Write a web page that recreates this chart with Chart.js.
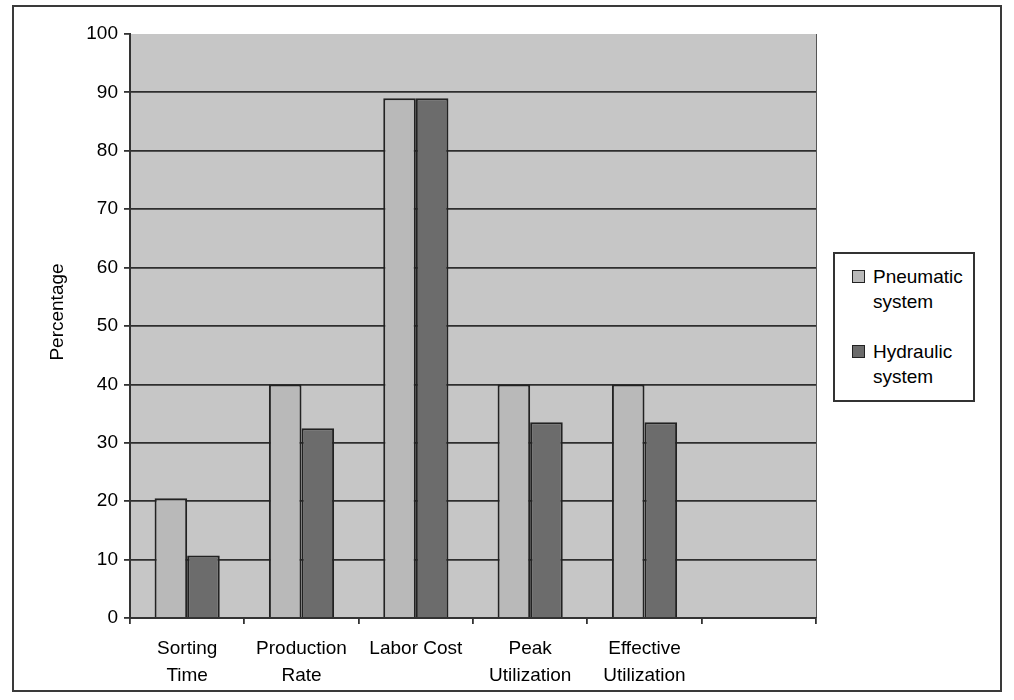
<!DOCTYPE html>
<html>
<head>
<meta charset="utf-8">
<script src="https://cdn.jsdelivr.net/npm/chart.js@4/dist/chart.umd.min.js"></script>
<style>
  html, body { margin: 0; padding: 0; background: #ffffff; }
  #wrap { position: relative; width: 1014px; height: 700px; }
  #frame { position: absolute; left: 12px; top: 5px; width: 986px; height: 683px; border: 2px solid #3a3a3a; pointer-events: none; }
  #legend { position: absolute; left: 833px; top: 252px; width: 142px; height: 150px; border: 2px solid #333; background: #fff;
            font-family: "Liberation Sans", Arial, sans-serif; font-size: 19px; color: #000; box-sizing: border-box; }
  .item { position: absolute; left: 17px; line-height: 25px; }
  .sw { position: absolute; left: 0; top: 6px; width: 11px; height: 11px; border: 1.5px solid #222; }
  .txt { margin-left: 21px; text-align: left; display: block; }
</style>
</head>
<body>
<div id="wrap">
  <canvas id="c" width="1014" height="700"></canvas>
  <div id="frame"></div>
  <div id="legend"></div>
</div>
<script>
// Categories (last slot intentionally empty)
const categories = [["Sorting", "Time"], ["Production", "Rate"], "Labor Cost", ["Peak", "Utilization"], ["Effective", "Utilization"], ""];
const pneumatic = [20.5, 40, 89, 40, 40, null];
const hydraulic = [10.7, 32.5, 89, 33.5, 33.5, null];
const seriesNames = [["Pneumatic", "system"], ["Hydraulic", "system"]];
const yTicks = [0, 10, 20, 30, 40, 50, 60, 70, 80, 90, 100];

const FONT = '"Liberation Sans", Arial, sans-serif';
const colors = ["#b9b9b9", "#6c6c6c"];

// Grey plot background, drawn behind the grid, plus the rotated axis title
const plotBg = {
  id: 'plotBg',
  beforeDraw(chart) {
    const { ctx, chartArea: a } = chart;
    ctx.save();
    ctx.fillStyle = '#c6c6c6';
    ctx.fillRect(a.left, a.top, a.right - a.left, a.bottom - a.top);
    ctx.strokeStyle = '#555';
    ctx.lineWidth = 1;
    ctx.beginPath();
    ctx.moveTo(a.right + 0.5, a.top);
    ctx.lineTo(a.right + 0.5, a.bottom);
    ctx.stroke();
    ctx.restore();
  },
  afterDraw(chart) {
    const { ctx } = chart;
    ctx.save();
    ctx.fillStyle = '#000';
    ctx.font = '19px ' + FONT;
    ctx.translate(58, 312);
    ctx.rotate(-Math.PI / 2);
    ctx.textAlign = 'center';
    ctx.textBaseline = 'middle';
    ctx.fillText('Percentage', 0, 0);
    ctx.restore();
  }
};

new Chart(document.getElementById('c'), {
  type: 'bar',
  data: {
    labels: categories,
    datasets: [
      { label: seriesNames[0].join(' '), data: pneumatic, backgroundColor: colors[0], borderColor: '#222', borderWidth: 2 },
      { label: seriesNames[1].join(' '), data: hydraulic, backgroundColor: colors[1], borderColor: '#222', borderWidth: 2 }
    ]
  },
  options: {
    responsive: false,
    animation: false,
    layout: { padding: { left: 0, right: 198, top: 34, bottom: 0 } },
    datasets: { bar: { categoryPercentage: 0.57, barPercentage: 1.0 } },
    plugins: { legend: { display: false }, tooltip: { enabled: false } },
    scales: {
      x: {
        offset: true,
        afterFit(s) { s.height = 82; },
        grid: { drawOnChartArea: false, drawTicks: true, tickLength: 6, color: '#333', lineWidth: 1.8, offset: true },
        border: { display: true, color: '#333', width: 2 },
        ticks: { color: '#000', font: { family: FONT, size: 19, lineHeight: 1.38 }, padding: 12, maxRotation: 0, autoSkip: false }
      },
      y: {
        min: 0, max: 100,
        afterFit(s) { s.width = 130; },
        afterBuildTicks(s) { s.ticks = yTicks.map(v => ({ value: v })); },
        grid: {
          color: (c) => (c.tick && c.tick.value === 100) ? 'rgba(0,0,0,0)' : '#2e2e2e',
          tickColor: '#333', lineWidth: 1.8, tickLength: 6, drawTicks: true
        },
        border: { display: true, color: '#333', width: 2 },
        ticks: { color: '#000', font: { family: FONT, size: 19 }, padding: 6 }
      }
    }
  },
  plugins: [plotBg]
});

// Legend box built from the series names
const legend = document.getElementById('legend');
seriesNames.forEach((lines, i) => {
  const it = document.createElement('div');
  it.className = 'item';
  it.style.top = (10 + i * 75) + 'px';
  const sw = document.createElement('span');
  sw.className = 'sw';
  sw.style.background = colors[i];
  it.appendChild(sw);
  lines.forEach(t => {
    const s = document.createElement('span');
    s.className = 'txt';
    s.textContent = t;
    it.appendChild(s);
  });
  legend.appendChild(it);
});
</script>
</body>
</html>
